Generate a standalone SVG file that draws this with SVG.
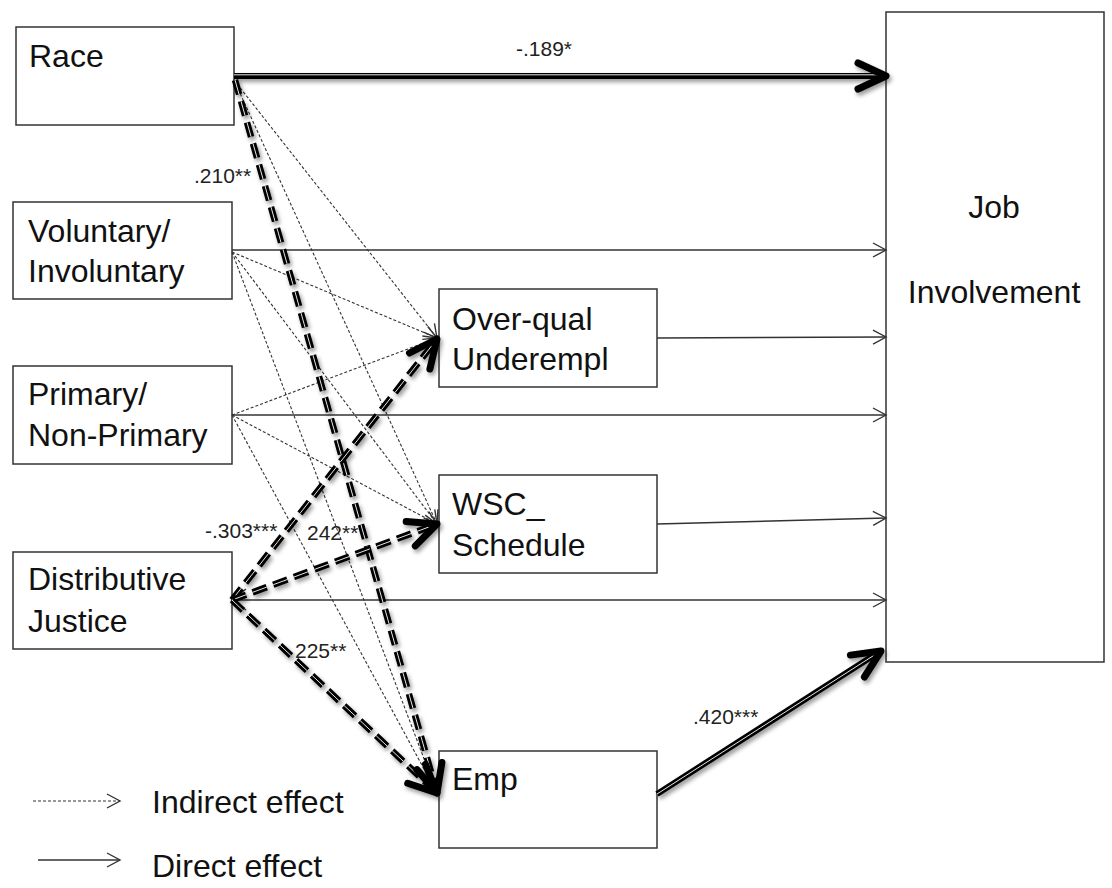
<svg xmlns="http://www.w3.org/2000/svg" width="1112" height="888" viewBox="0 0 1112 888">
<style>
.box{fill:#fff;stroke:#333;stroke-width:1.5}
.nt{font-family:"Liberation Sans",Arial,sans-serif;font-size:32px;fill:#111}
.lb{font-family:"Liberation Sans",Arial,sans-serif;font-size:21px;fill:#222}
.thin{fill:none;stroke:#333;stroke-width:1.4}
.dot{fill:none;stroke:#333;stroke-width:1.1;stroke-dasharray:3 2}
.thk{fill:none;stroke:#000;stroke-width:6}
.thkd{fill:none;stroke:#000;stroke-width:6.5;stroke-dasharray:15 7}
.inner{fill:none;stroke:#fff;stroke-width:0.9}
.innerd{fill:none;stroke:#fff;stroke-width:0.9;stroke-dasharray:15 7}
.head{fill:none;stroke:#000;stroke-width:7;stroke-linecap:round;stroke-linejoin:round}
.ahd{fill:none;stroke:#333;stroke-width:1.4}
</style>
<defs>
<marker id="ah" markerUnits="userSpaceOnUse" markerWidth="16" markerHeight="16" refX="13" refY="7" orient="auto" viewBox="-1 -1 16 16">
<path d="M0,0 L13,7 L0,14" class="ahd"/>
</marker>
<filter id="sh" filterUnits="userSpaceOnUse" x="0" y="0" width="1112" height="888">
<feDropShadow dx="2" dy="3" stdDeviation="2" flood-color="#000" flood-opacity="0.4"/>
</filter>
</defs>
<rect width="1112" height="888" fill="#fff"/>

<g id="race"><rect class="box" x="16" y="27" width="218" height="98"/><text class="nt" x="29" y="67">Race</text></g>
<g id="voluntary"><rect class="box" x="13" y="202" width="219" height="97"/><text class="nt" x="28" y="242">Voluntary/</text><text class="nt" x="28" y="282">Involuntary</text></g>
<g id="primary"><rect class="box" x="13" y="366" width="219" height="98"/><text class="nt" x="28" y="405">Primary/</text><text class="nt" x="28" y="446">Non-Primary</text></g>
<g id="distributive"><rect class="box" x="13" y="552" width="219" height="97"/><text class="nt" x="28" y="590">Distributive</text><text class="nt" x="28" y="632">Justice</text></g>
<g id="overqual"><rect class="box" x="439" y="289" width="218" height="98"/><text class="nt" x="452" y="330">Over-qual</text><text class="nt" x="452" y="370">Underempl</text></g>
<g id="wsc"><rect class="box" x="439" y="475" width="218" height="98"/><text class="nt" x="452" y="515">WSC_</text><text class="nt" x="452" y="556">Schedule</text></g>
<g id="emp"><rect class="box" x="439" y="751" width="218" height="97"/><text class="nt" x="452" y="790">Emp</text></g>
<g id="job"><rect class="box" x="886" y="12" width="218" height="650"/><text class="nt" x="994" y="218" text-anchor="middle">Job</text><text class="nt" x="994" y="303" text-anchor="middle">Involvement</text></g>

<g id="connectors">
<line class="dot" x1="234" y1="80" x2="437" y2="338" marker-end="url(#ah)"/>
<line class="dot" x1="234" y1="80" x2="437" y2="524" marker-end="url(#ah)"/>
<line class="dot" x1="232" y1="252" x2="437" y2="338" marker-end="url(#ah)"/>
<line class="dot" x1="232" y1="252" x2="437" y2="524" marker-end="url(#ah)"/>
<line class="dot" x1="232" y1="252" x2="437" y2="793"/>
<line class="dot" x1="232" y1="415" x2="437" y2="338" marker-end="url(#ah)"/>
<line class="dot" x1="232" y1="415" x2="437" y2="524" marker-end="url(#ah)"/>
<line class="dot" x1="232" y1="415" x2="437" y2="793"/>
<line class="thin" x1="232" y1="250" x2="886" y2="250" marker-end="url(#ah)"/>
<line class="thin" x1="657" y1="338" x2="886" y2="337" marker-end="url(#ah)"/>
<line class="thin" x1="232" y1="415" x2="886" y2="415" marker-end="url(#ah)"/>
<line class="thin" x1="657" y1="524" x2="886" y2="518" marker-end="url(#ah)"/>
<line class="thin" x1="232" y1="600" x2="886" y2="600" marker-end="url(#ah)"/>
<polyline class="thin" points="246,589 232,600 246,610"/>
<g filter="url(#sh)">
<line class="thk" x1="234" y1="76" x2="884" y2="76"/>
<line class="inner" x1="234" y1="74.8" x2="880" y2="74.8"/>
<polyline class="head" points="858,63 886,76 858,89"/>

<line class="thkd" x1="235" y1="80" x2="437" y2="793"/>
<line class="innerd" x1="235" y1="80" x2="437" y2="793"/>
<line class="thkd" x1="232" y1="600" x2="437" y2="339"/>
<line class="innerd" x1="232" y1="600" x2="437" y2="339"/>
<line class="thkd" x1="232" y1="600" x2="437" y2="524"/>
<line class="innerd" x1="232" y1="600" x2="437" y2="524"/>
<line class="thkd" x1="232" y1="600" x2="437" y2="793"/>
<line class="innerd" x1="232" y1="600" x2="437" y2="793"/>
<polyline class="head" points="416.9,769.6 437,793 441.9,762.5"/>
<polyline class="head" points="407.7,783.3 437,793 425.5,764.3"/>
<polyline class="head" points="409.5,353 437,339 429.9,369"/>
<polyline class="head" points="406.2,521.6 437,524 415.3,545.9"/>

<line class="thk" x1="657" y1="794" x2="879" y2="652"/>
<line class="inner" x1="657" y1="794" x2="876" y2="654"/>
<polyline class="head" points="850.4,655.1 881,651 864.4,677"/>
</g>
</g>

<g id="labels">
<text class="lb" x="516" y="56">-.189*</text>
<text class="lb" x="194" y="183">.210**</text>
<text class="lb" x="205" y="538">-.303***</text>
<text class="lb" x="307" y="540">242**</text>
<text class="lb" x="295" y="658">225**</text>
<text class="lb" x="693" y="724">.420***</text>
</g>

<g id="legend">
<line class="dot" x1="33" y1="801" x2="120" y2="801" marker-end="url(#ah)"/>
<text class="nt" x="152" y="813">Indirect effect</text>
<line class="thin" x1="38" y1="860" x2="120" y2="860" marker-end="url(#ah)"/>
<text class="nt" x="152" y="877">Direct effect</text>
</g>
</svg>
